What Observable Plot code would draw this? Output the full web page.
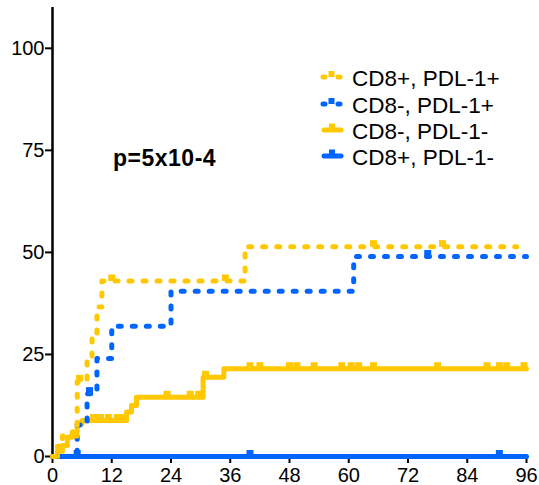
<!DOCTYPE html>
<html><head><meta charset="utf-8">
<script src="https://cdn.jsdelivr.net/npm/d3@7"></script>
<script src="https://cdn.jsdelivr.net/npm/@observablehq/plot@0.6"></script>
<style>
body{margin:0;background:#fff}
g[aria-label="x-axis tick label"], g[aria-label="y-axis tick label"] { font-size: 20px !important; }
g[aria-label="x-axis tick label"] text, g[aria-label="y-axis tick label"] text { font-size: 20px !important; }
</style>
</head><body><div id="chart"></div>
<script>
// ---- data ----
const seriesNames = ["CD8+, PDL-1+", "CD8-, PDL-1+", "CD8-, PDL-1-", "CD8+, PDL-1-"];
const seriesColors = ["#FFC800", "#0064FF", "#FFC800", "#0064FF"];
const seriesDotted = [true, true, false, false];

const tYellowDot = [0, 1, 2, 5, 7, 8, 9, 10, 39, 94];
const vYellowDot = [0, 2.5, 5, 18.4, 24, 30, 36.6, 43, 51.4, 51.4];
const cYellowDotT = [5.5, 12, 35, 65, 79];
const cYellowDotV = [18.4, 43, 43, 51.4, 51.4];

const tBlueDot = [0, 5, 7, 9, 12, 24, 61, 96];
const vBlueDot = [0, 7.7, 15.4, 24, 31.9, 40.5, 49, 49];
const cBlueDotT = [7.5, 76];
const cBlueDotV = [15.4, 49];

const tYellowSolid = [0, 1, 2, 3, 4, 5, 6, 15, 16, 17, 30.5, 34.7, 96];
const vYellowSolid = [0, 1.3, 2.7, 4.7, 6, 8, 8.8, 10.9, 12.5, 14.5, 19.4, 21.5, 21.5];
const cYellowSolidT = [8.3, 9.7, 11.3, 13.1, 14.4, 23.2, 27.9, 29.6, 31, 40, 42, 48, 49.5, 53, 58.6, 60.5, 62, 65, 78, 88, 90.5, 92, 95.5];
const cYellowSolidV = [8.8, 8.8, 8.8, 8.8, 8.8, 14.5, 14.5, 14.5, 19.4, 21.5, 21.5, 21.5, 21.5, 21.5, 21.5, 21.5, 21.5, 21.5, 21.5, 21.5, 21.5, 21.5, 21.5];

const tBlueSolid = [0, 96];
const vBlueSolid = [0, 0];
const cBlueSolidT = [5, 40, 90.5];
const cBlueSolidV = [0, 0, 0];

const xTicks = [0, 12, 24, 36, 48, 60, 72, 84, 96];
const yTicks = [0, 25, 50, 75, 100];
const pLabel = "p=5x10-4";

// ---- build tables ----
const curveT = [tYellowDot, tBlueDot, tYellowSolid, tBlueSolid];
const curveV = [vYellowDot, vBlueDot, vYellowSolid, vBlueSolid];
const censT = [cYellowDotT, cBlueDotT, cYellowSolidT, cBlueSolidT];
const censV = [cYellowDotV, cBlueDotV, cYellowSolidV, cBlueSolidV];

function rows(i) { return curveT[i].map((t, j) => ({s: seriesNames[i], t, v: curveV[i][j]})); }
function cens(i) { return censT[i].map((t, j) => ({s: seriesNames[i], t, v: censV[i][j]})); }

const censorSymbol = { draw(ctx) { ctx.moveTo(-3.5, -6.5); ctx.lineTo(3.5, -6.5); ctx.lineTo(3.5, 0); ctx.lineTo(-3.5, 0); ctx.closePath(); } };

const drawOrder = [3, 2, 1, 0];
const marks = [];
for (const i of drawOrder) {
  const opts = {x: "t", y: "v", curve: "step-after", stroke: seriesColors[i], strokeWidth: 5};
  if (seriesDotted[i]) { opts.strokeDasharray = "3,11"; opts.strokeLinecap = "round"; opts.strokeLinejoin = "round"; }
  marks.push(Plot.line(rows(i), opts));
  marks.push(Plot.dot(cens(i), {x: "t", y: "v", symbol: censorSymbol, fill: seriesColors[i], stroke: "none", r: 3}));
}

const chart = Plot.plot({
  width: 539, height: 485,
  marginLeft: 52, marginRight: 13, marginTop: 7, marginBottom: 29,
  style: {fontFamily: "'Liberation Sans', Arial, sans-serif", fontSize: "20px", background: "#fff", color: "#000"},
  x: {domain: [0, 96], label: null},
  y: {domain: [0, 110], label: null},
  marks: [
    Plot.axisX({ticks: xTicks, tickSize: 7, tickPadding: 4, fontSize: 20, strokeWidth: 2, label: null}),
    Plot.axisY({ticks: yTicks, tickSize: 7, tickPadding: 1, fontSize: 20, strokeWidth: 2, label: null}),
    Plot.ruleX([0], {stroke: "#000", strokeWidth: 2.5, y1: 0, y2: 110}),
    ...marks
  ]
});
document.getElementById("chart").appendChild(chart);
d3.select(chart).selectAll('g[aria-label$="tick label"]').attr("font-size", 20).style("font-size", "20px");

// ---- legend & annotation ----
const svg = d3.select(chart);
const lg = svg.append("g").attr("font-family", "'Liberation Sans', Arial, sans-serif").attr("font-size", 22.5).attr("text-anchor", "start");
const rowY = [77, 104, 130, 156];
seriesNames.forEach((name, i) => {
  const y = rowY[i];
  const g = lg.append("g").attr("fill", seriesColors[i]).attr("stroke", seriesColors[i]);
  if (seriesDotted[i]) {
    g.append("line").attr("x1", 323).attr("x2", 325).attr("y1", y).attr("y2", y).attr("stroke-width", 5).attr("stroke-linecap", "round");
    g.append("line").attr("x1", 338).attr("x2", 340).attr("y1", y).attr("y2", y).attr("stroke-width", 5).attr("stroke-linecap", "round");
    g.append("rect").attr("x", 328.5).attr("y", y - 6).attr("width", 6).attr("height", 6).attr("stroke", "none");
  } else {
    g.append("line").attr("x1", 324).attr("x2", 341).attr("y1", y).attr("y2", y).attr("stroke-width", 5).attr("stroke-linecap", "round");
    g.append("rect").attr("x", 329).attr("y", y - 6.5).attr("width", 6).attr("height", 6).attr("stroke", "none");
  }
  lg.append("text").attr("x", 352).attr("y", y + 9).attr("fill", "#000").attr("text-anchor", "start").text(name);
});
svg.append("text").attr("x", 113).attr("y", 166).attr("text-anchor", "start")
  .attr("font-family", "'Liberation Sans', Arial, sans-serif").attr("font-size", 23).attr("font-weight", "bold")
  .attr("letter-spacing", "0.5px").attr("fill", "#000").text(pLabel);
</script></body></html>
